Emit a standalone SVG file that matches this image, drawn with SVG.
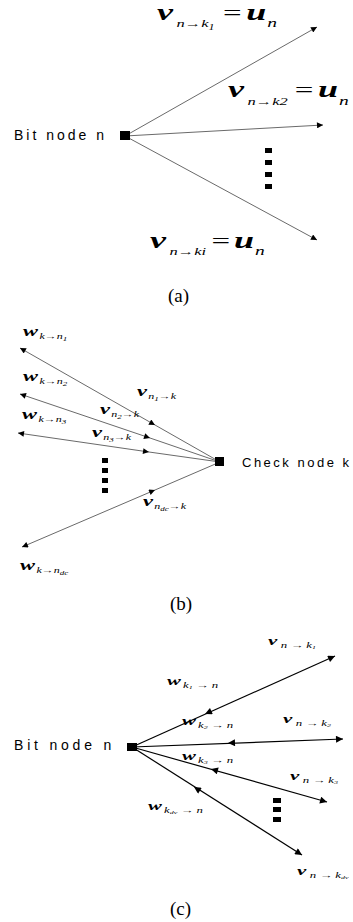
<svg xmlns="http://www.w3.org/2000/svg" width="353" height="922" viewBox="0 0 353 922">
<style>
.lbl{font-family:"Liberation Sans",Arial,sans-serif;font-size:14px;letter-spacing:3px;fill:#000}
.m{font-family:"Liberation Serif","Times New Roman",serif;font-style:italic;fill:#000}
.b{font-weight:bold}
.up{font-style:normal}
.cap{font-family:"Liberation Serif","Times New Roman",serif;font-size:19px;fill:#000}
.lg{fill:none;stroke:#6a6a6a;stroke-width:1}
.lk{fill:none;stroke:#000;stroke-width:1.2}
.dot{fill:#000}
</style>
<defs>
<marker id="ah" viewBox="0 0 10 10" refX="10" refY="5" markerWidth="9" markerHeight="6" orient="auto-start-reverse" markerUnits="userSpaceOnUse"><path d="M0,0 L10,5 L0,10 z" fill="#000"/></marker>
<marker id="ahc" viewBox="0 0 10 10" refX="10" refY="5" markerWidth="10" markerHeight="7" orient="auto-start-reverse" markerUnits="userSpaceOnUse"><path d="M0,0 L10,5 L0,10 z" fill="#000"/></marker>
</defs>

<!-- (a) -->
<g id="connectors-a">
<path class="lg" d="M125,136 L317,27" marker-end="url(#ah)"/>
<path class="lg" d="M125,136 L323,125" marker-end="url(#ah)"/>
<path class="lg" d="M125,136 L317,240" marker-end="url(#ah)"/>
</g>
<g id="node-a-bit">
<rect x="120" y="131" width="10" height="9" fill="#000"/>
<text class="lbl" x="14" y="140">Bit node n</text>
</g>
<g id="dots-a">
<rect class="dot" x="265" y="148" width="7" height="5"/>
<rect class="dot" x="265" y="160" width="7" height="5"/>
<rect class="dot" x="265" y="172" width="7" height="5"/>
<rect class="dot" x="265" y="184" width="7" height="5"/>
</g>
<g id="labels-a">
<text class="m" transform="translate(157,20) scale(1.5,1)"><tspan class="b" font-size="24">v</tspan><tspan x="13" y="7" font-size="11">n→k</tspan><tspan dy="3" font-size="8">1</tspan><tspan class="up" x="44" y="0" font-size="22">=</tspan><tspan class="b" x="59.5" y="0" font-size="24">u</tspan><tspan x="73.5" y="7" font-size="13">n</tspan></text>
<text class="m" transform="translate(228,97) scale(1.5,1)"><tspan class="b" font-size="24">v</tspan><tspan x="13" y="8" font-size="11">n→k2</tspan><tspan class="up" x="44.5" y="0" font-size="22">=</tspan><tspan class="b" x="60" y="0" font-size="24">u</tspan><tspan x="74" y="8" font-size="13">n</tspan></text>
<text class="m" transform="translate(150,248) scale(1.5,1)"><tspan class="b" font-size="24">v</tspan><tspan x="13" y="7" font-size="11">n→ki</tspan><tspan class="up" x="41" y="0" font-size="22">=</tspan><tspan class="b" x="56" y="0" font-size="24">u</tspan><tspan x="70" y="7" font-size="13">n</tspan></text>
<text class="cap" x="168" y="302">(a)</text>
</g>

<!-- (b) -->
<g id="connectors-b">
<path class="lg" d="M20,348 L155,425 L220,462" marker-start="url(#ah)" marker-mid="url(#ah)"/>
<path class="lg" d="M20,394 L150,438 L220,462" marker-start="url(#ah)" marker-mid="url(#ah)"/>
<path class="lg" d="M18,433 L149,452 L220,462" marker-start="url(#ah)" marker-mid="url(#ah)"/>
<path class="lg" d="M22,547 L155,490 L220,462" marker-start="url(#ah)" marker-mid="url(#ah)"/>
</g>
<g id="node-b-check">
<rect x="215" y="457" width="9" height="9" fill="#000"/>
<text class="lbl" x="242" y="467" style="font-size:13px;letter-spacing:2.5px">Check node k</text>
</g>
<g id="dots-b">
<rect class="dot" x="102" y="458" width="6" height="5"/>
<rect class="dot" x="102" y="468" width="6" height="5"/>
<rect class="dot" x="102" y="478" width="6" height="5"/>
<rect class="dot" x="102" y="488" width="6" height="5"/>
</g>
<g id="labels-b">
<text class="m" transform="translate(23,336) scale(1.5,1)"><tspan class="b" font-size="15">w</tspan><tspan x="11" y="3" font-size="8">k→n</tspan><tspan dy="1.5" font-size="6">1</tspan></text>
<text class="m" transform="translate(23,381) scale(1.5,1)"><tspan class="b" font-size="15">w</tspan><tspan x="11" y="3" font-size="8">k→n</tspan><tspan dy="1.5" font-size="6">2</tspan></text>
<text class="m" transform="translate(22,419) scale(1.5,1)"><tspan class="b" font-size="15">w</tspan><tspan x="11" y="3" font-size="8">k→n</tspan><tspan dy="1.5" font-size="6">3</tspan></text>
<text class="m" transform="translate(20,570) scale(1.5,1)"><tspan class="b" font-size="15">w</tspan><tspan x="11" y="3" font-size="8">k→n</tspan><tspan dy="1.5" font-size="6">dc</tspan></text>
<text class="m" transform="translate(137,396) scale(1.5,1)"><tspan class="b" font-size="15">v</tspan><tspan x="7.5" y="3" font-size="8">n</tspan><tspan dy="1.5" font-size="6">1</tspan><tspan dy="-1.5" font-size="8">→k</tspan></text>
<text class="m" transform="translate(100,414) scale(1.5,1)"><tspan class="b" font-size="15">v</tspan><tspan x="7.5" y="3" font-size="8">n</tspan><tspan dy="1.5" font-size="6">2</tspan><tspan dy="-1.5" font-size="8">→k</tspan></text>
<text class="m" transform="translate(92,437) scale(1.5,1)"><tspan class="b" font-size="15">v</tspan><tspan x="7.5" y="3" font-size="8">n</tspan><tspan dy="1.5" font-size="6">3</tspan><tspan dy="-1.5" font-size="8">→k</tspan></text>
<text class="m" transform="translate(143,506) scale(1.5,1)"><tspan class="b" font-size="15">v</tspan><tspan x="7.5" y="3" font-size="8">n</tspan><tspan dy="1.5" font-size="6">dc</tspan><tspan dy="-1.5" font-size="8">→k</tspan></text>
<text class="cap" x="170" y="610">(b)</text>
</g>

<!-- (c) -->
<g id="connectors-c">
<path class="lk" d="M132,747 L335,656" marker-end="url(#ahc)"/>
<path class="lk" d="M132,747 L343,739" marker-end="url(#ahc)"/>
<path class="lk" d="M132,747 L327,802" marker-end="url(#ahc)"/>
<path class="lk" d="M132,747 L302,855" marker-end="url(#ahc)"/>
<path d="M335,656 L205,714" fill="none" stroke="none" marker-end="url(#ahc)"/>
<path d="M343,739 L228,743" fill="none" stroke="none" marker-end="url(#ahc)"/>
<path d="M327,802 L211,769" fill="none" stroke="none" marker-end="url(#ahc)"/>
<path d="M302,855 L194,787" fill="none" stroke="none" marker-end="url(#ahc)"/>
</g>
<g id="node-c-bit">
<rect x="127" y="743" width="10" height="8" fill="#000"/>
<text class="lbl" x="14" y="750" style="letter-spacing:3.8px">Bit node n</text>
</g>
<g id="dots-c">
<rect class="dot" x="273" y="798" width="8" height="5"/>
<rect class="dot" x="273" y="807" width="8" height="5"/>
<rect class="dot" x="273" y="817" width="8" height="5"/>
</g>
<g id="labels-c">
<text class="m" transform="translate(268,645) scale(1.6,1)"><tspan class="b" font-size="13">v</tspan><tspan x="8" y="3" font-size="8">n → k</tspan><tspan dy="1.5" font-size="5">1</tspan></text>
<text class="m" transform="translate(167,685) scale(1.6,1)"><tspan class="b" font-size="13">w</tspan><tspan x="10" y="3" font-size="8">k</tspan><tspan dy="1.5" font-size="5">1</tspan><tspan dy="-1.5" font-size="8"> → n</tspan></text>
<text class="m" transform="translate(182,725) scale(1.6,1)"><tspan class="b" font-size="13">w</tspan><tspan x="10" y="3" font-size="8">k</tspan><tspan dy="1.5" font-size="5">2</tspan><tspan dy="-1.5" font-size="8"> → n</tspan></text>
<text class="m" transform="translate(283,723) scale(1.6,1)"><tspan class="b" font-size="13">v</tspan><tspan x="8" y="3" font-size="8">n → k</tspan><tspan dy="1.5" font-size="5">2</tspan></text>
<text class="m" transform="translate(182,760) scale(1.6,1)"><tspan class="b" font-size="13">w</tspan><tspan x="10" y="3" font-size="8">k</tspan><tspan dy="1.5" font-size="5">3</tspan><tspan dy="-1.5" font-size="8"> → n</tspan></text>
<text class="m" transform="translate(290,780) scale(1.6,1)"><tspan class="b" font-size="13">v</tspan><tspan x="8" y="3" font-size="8">n → k</tspan><tspan dy="1.5" font-size="5">3</tspan></text>
<text class="m" transform="translate(148,810) scale(1.6,1)"><tspan class="b" font-size="13">w</tspan><tspan x="10" y="3" font-size="8">k</tspan><tspan dy="1.5" font-size="5">dv</tspan><tspan dy="-1.5" font-size="8"> → n</tspan></text>
<text class="m" transform="translate(297,875) scale(1.6,1)"><tspan class="b" font-size="13">v</tspan><tspan x="8" y="3" font-size="8">n → k</tspan><tspan dy="1.5" font-size="5">dv</tspan></text>
<text class="cap" x="170" y="915">(c)</text>
</g>
</svg>
